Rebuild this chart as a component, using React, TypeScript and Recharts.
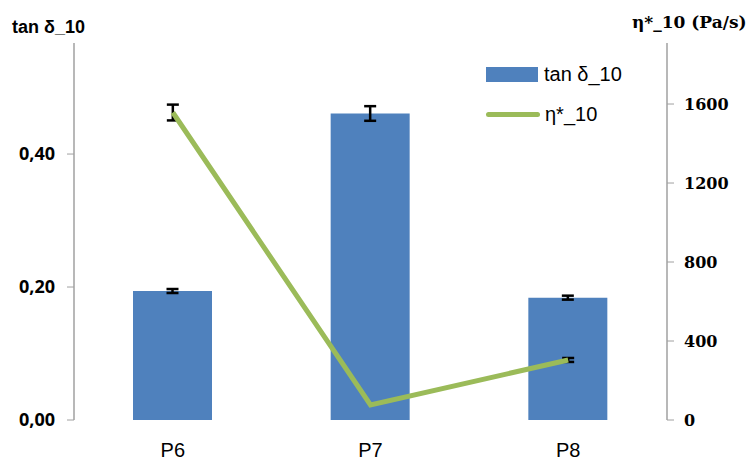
import { ComposedChart, Bar, Line, XAxis, YAxis, ErrorBar } from "recharts"

const samples = ["P6", "P7", "P8"]
const tanDelta = [0.194, 0.461, 0.184]
const tanDeltaErr = [0.003, 0.011, 0.003]
const viscosity = [1557, 76, 304]
const viscosityErr = [40, 0, 10]

const leftTicks = [0, 0.2, 0.4]
const rightTicks = [0, 400, 800, 1200, 1600]
const boundaryTicks = [0, 1, 2, 3]

const data = samples.map((name, i) => ({
  name,
  idx: i + 0.5,
  tan: tanDelta[i],
  tanErr: tanDeltaErr[i],
  eta: viscosity[i],
  etaErr: viscosityErr[i],
}))

const BLUE = "#4F81BD"
const GREEN = "#9BBB59"
const AXIS = "#A0A0A0"
const SANS = "'Liberation Sans', Arial, sans-serif"

// category names sit low near the bottom edge like the original
const CategoryTick = (props: any) => {
  const { x, y, payload } = props
  return (
    <text x={x} y={y} dy={29} textAnchor="middle" fontSize={20} fill="#000" fontFamily={SANS}>
      {payload.value}
    </text>
  )
}

export default function App() {
  return (
    <div style={{ position: "absolute", left: 0, top: 0, width: 750, height: 461, background: "#fff", overflow: "hidden" }}>
      <div style={{ position: "absolute", left: 12, top: 17, fontFamily: SANS, fontWeight: 700, fontSize: 18 }}>
        tan δ_10
      </div>
      <div style={{ position: "absolute", left: 632, top: 12, fontFamily: "'DejaVu Serif', serif", fontWeight: 700, fontSize: 17 }}>
        η*_10 (Pa/s)
      </div>
      {/* legend */}
      <div style={{ position: "absolute", left: 486, top: 59, fontFamily: SANS, fontSize: 20, color: "#000" }}>
        <div style={{ display: "flex", alignItems: "center", height: 30 }}>
          <div style={{ width: 52, height: 15, background: BLUE, marginRight: 6 }} />
          <span>tan δ_10</span>
        </div>
        <div style={{ display: "flex", alignItems: "center", height: 30, marginTop: 10 }}>
          <div style={{ width: 54, height: 5, borderRadius: 3, background: GREEN, marginRight: 5 }} />
          <span>η*_10</span>
        </div>
      </div>
      <ComposedChart width={750} height={461} data={data} margin={{ top: 43, right: 0, left: 0, bottom: 0 }}>
        <XAxis
          xAxisId="grid"
          type="number"
          dataKey="idx"
          domain={[0, 3]}
          ticks={boundaryTicks}
          tick={false}
          tickSize={8}
          height={0}
          stroke={AXIS}
          axisLine={{ stroke: AXIS, strokeWidth: 1.5 }}
        />
        <XAxis
          xAxisId="cat"
          dataKey="name"
          height={41}
          axisLine={false}
          tickLine={false}
          tick={<CategoryTick />}
        />
        <YAxis
          yAxisId="left"
          width={74}
          domain={[0, 0.567]}
          ticks={leftTicks}
          tickFormatter={(v: number) => v.toFixed(2).replace(".", ",")}
          tick={{ fontSize: 18, fontWeight: 700, fill: "#000", fontFamily: "'Open Sans', sans-serif" }}
          tickSize={7}
          tickMargin={12}
          stroke={AXIS}
          axisLine={{ stroke: AXIS, strokeWidth: 1.5 }}
        />
        <YAxis
          yAxisId="right"
          orientation="right"
          width={83}
          domain={[0, 1909]}
          ticks={rightTicks}
          tick={{ fontSize: 16, fontWeight: 700, fill: "#000", fontFamily: "'DejaVu Serif', serif", textAnchor: "start" }}
          tickSize={7}
          tickMargin={10}
          stroke={AXIS}
          axisLine={{ stroke: AXIS, strokeWidth: 1.5 }}
        />
        <Bar xAxisId="cat" yAxisId="left" dataKey="tan" fill={BLUE} barSize={79} isAnimationActive={false}>
          <ErrorBar dataKey="tanErr" width={6} stroke="#000" strokeWidth={2.5} />
        </Bar>
        <Line
          xAxisId="cat"
          yAxisId="right"
          dataKey="eta"
          type="linear"
          stroke={GREEN}
          strokeWidth={5}
          dot={false}
          isAnimationActive={false}
        >
          <ErrorBar dataKey="etaErr" width={6} stroke="#000" strokeWidth={2.5} />
        </Line>
      </ComposedChart>
    </div>
  )
}
